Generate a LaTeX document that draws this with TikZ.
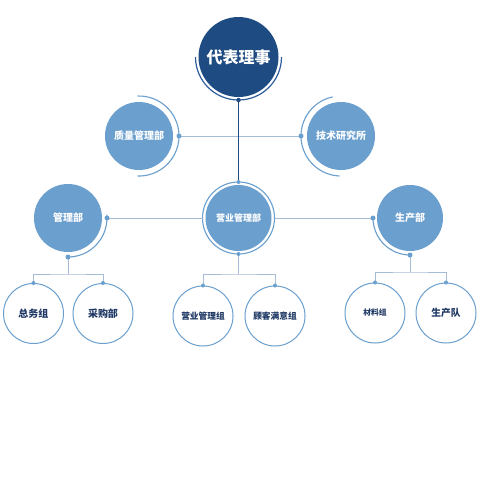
\documentclass[tikz,border=0pt]{standalone}
\usepackage{fontspec}
\setmainfont{Noto Sans CJK SC}
\usetikzlibrary{calc}
\definecolor{topblue}{HTML}{1D4B82}
\definecolor{arcblue}{HTML}{2F5E9E}
\definecolor{midblue}{HTML}{6A9FCE}
\definecolor{lineblue}{HTML}{A6BCD6}
\definecolor{navy}{HTML}{1F3864}
\tikzset{
  topnode/.style={circle, fill=topblue, minimum size=80pt, inner sep=0pt, text=white, font=\bfseries\fontsize{16}{16}\selectfont},
  midnode/.style={circle, fill=midblue, minimum size=68pt, inner sep=0pt, text=white, font=\bfseries\fontsize{10}{10}\selectfont},
  childnode/.style={circle, draw=midblue, line width=1pt, minimum size=60pt, inner sep=0pt, text=navy, font=\bfseries\fontsize{10}{10}\selectfont},
  dotnode/.style={circle, fill=midblue, inner sep=0pt, minimum size=5pt},
  smalldot/.style={circle, fill=midblue, inner sep=0pt, minimum size=4pt},
  arcline/.style={draw=midblue, line width=1.1pt},
  link/.style={draw=lineblue, line width=1pt},
  darklink/.style={draw=topblue, line width=1.1pt}
}
\begin{document}
\begin{tikzpicture}[x=1pt,y=1pt]
\useasboundingbox (0,0) rectangle (480,-480);
\fill[white] (0,0) rectangle (480,-480);

% main nodes
\node[topnode] (top) at (238.5,-57) {代表理事};
\node[midnode] (zl) at (139,-136) {质量管理部};
\node[midnode] (js) at (341,-136) {技术研究所};
\node[midnode] (gl) at (68,-218) {管理部};
\node[midnode, minimum size=66pt, font=\bfseries\fontsize{9}{9}\selectfont] (yy) at (238.5,-218) {营业管理部};
\node[midnode, minimum size=66pt] (sc) at (410,-218) {生产部};

% children
\node[childnode] (zw) at (33.5,-313.5) {总务组};
\node[childnode] (cg) at (103,-313.5) {采购部};
\node[childnode, font=\bfseries\fontsize{8.7}{9}\selectfont] (yyz) at (203,-316) {营业管理组};
\node[childnode, font=\bfseries\fontsize{8.7}{9}\selectfont] (gk) at (275,-316) {顾客满意组};
\node[childnode, font=\bfseries\fontsize{7.8}{8}\selectfont] (cl) at (375,-313) {材料组};
\node[childnode, font=\bfseries\fontsize{9.7}{10}\selectfont] (scd) at (446,-313) {生产队};

% decorative arcs
\draw[draw=arcblue, line width=1.2pt] ($(top.center)+(180:43)$) arc[start angle=180, end angle=360, radius=43];
\draw[arcline] ($(zl.center)+(92:40)$) arc[start angle=92, end angle=-92, radius=40];
\draw[arcline] ($(js.center)+(102:40)$) arc[start angle=102, end angle=268, radius=40];
\draw[arcline] ($(gl.center)+(5:39)$) arc[start angle=5, end angle=-92, radius=39];
\draw[arcline] (yy.center) circle[radius=36];
\draw[arcline] ($(sc.center)+(178:37)$) arc[start angle=178, end angle=272, radius=37];

% connection points
\coordinate (td) at ($(top.center)+(270:43)$);
\coordinate (zld) at ($(zl.center)+(0:40)$);
\coordinate (jsd) at ($(js.center)+(180:40)$);
\coordinate (gld) at ($(gl.center)+(0:39)$);
\coordinate (glb) at ($(gl.center)+(270:39)$);
\coordinate (yyt) at ($(yy.center)+(90:36)$);
\coordinate (yyb) at ($(yy.center)+(270:36)$);
\coordinate (yyl) at ($(yy.center)+(180:36)$);
\coordinate (yyr) at ($(yy.center)+(0:36)$);
\coordinate (scd1) at ($(sc.center)+(180:37)$);
\coordinate (scb) at ($(sc.center)+(270:37)$);
\coordinate (glj) at (68,-274);
\coordinate (yyj) at (238.5,-274);
\coordinate (scj) at (410,-272);

% connectors
\draw[link] (zld) -- (jsd);
\draw[link] (gld) -- (yyl);
\draw[link] (yyr) -- (scd1);
\draw[link] (glb) -- (glj);
\draw[link] (zw.north) |- (glj) -| (cg.north);
\draw[link] (yyb) -- (yyj);
\draw[link] (yyz.north) |- (yyj) -| (gk.north);
\draw[link] (scb) -- (scj);
\draw[link] (cl.north) |- (scj) -| (scd.north);
\draw[darklink] (td) -- (yyt);

% dots
\node[dotnode, fill=topblue, minimum size=4.5pt] at (td) {};
\node[dotnode] at (zld) {};
\node[dotnode] at (jsd) {};
\node[dotnode] at (gld) {};
\node[dotnode] at (glb) {};
\node[smalldot] at (yyt) {};
\node[smalldot] at (yyb) {};
\node[dotnode] at (scd1) {};
\node[dotnode] at (scb) {};
\node[smalldot] at (zw.north) {};
\node[smalldot] at (cg.north) {};
\node[smalldot] at (yyz.north) {};
\node[smalldot] at (gk.north) {};
\node[smalldot] at (cl.north) {};
\node[smalldot] at (scd.north) {};
\end{tikzpicture}
\end{document}
